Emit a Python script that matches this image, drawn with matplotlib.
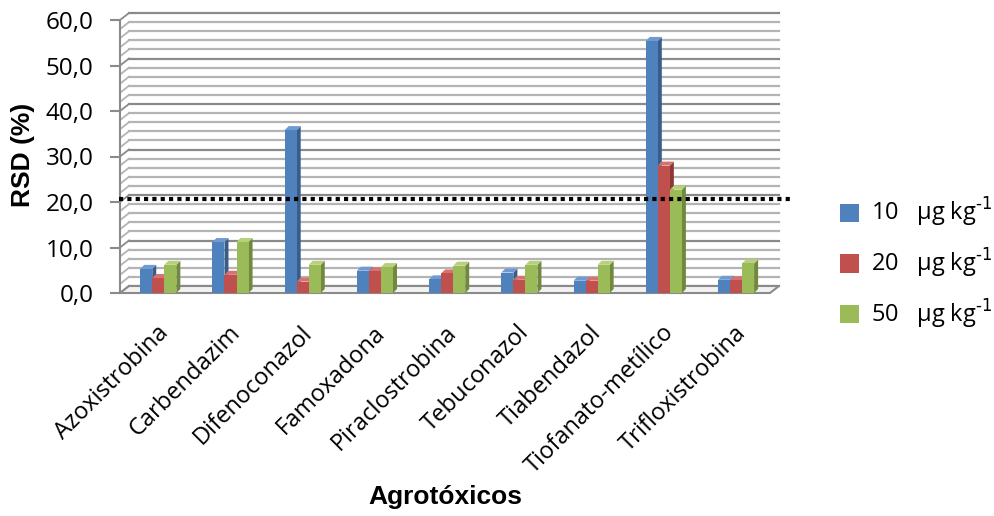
import numpy as np
import matplotlib
matplotlib.use('Agg')
import matplotlib.pyplot as plt
import matplotlib.transforms as mtransforms
from matplotlib.patches import Polygon


agrotoxicos = ['Azoxistrobina', 'Carbendazim', 'Difenoconazol', 'Famoxadona',
               'Piraclostrobina', 'Tebuconazol', 'Tiabendazol',
               'Tiofanato-metílico', 'Trifloxistrobina']
niveis = ['10', '20', '50']
rsd_10 = [5.3, 11.2, 35.8, 4.9, 3.0, 4.5, 2.7, 55.4, 2.9]
rsd_20 = [3.3, 4.0, 2.5, 4.8, 4.3, 2.9, 2.7, 28.0, 2.8]
rsd_50 = [6.2, 11.2, 6.2, 5.7, 6.0, 6.2, 6.2, 22.7, 6.5]
limite = 20.6

cores = ['#4F81BD', '#C0504D', '#9BBB59']
lados = ['#385D8A', '#8C3836', '#71893F']
topos = ['#6F9AD3', '#D9726F', '#B5D17A']

plt.rcParams['font.family'] = ['Open Sans', 'DejaVu Sans']

fig = plt.figure(figsize=(9.95, 5.16), dpi=100)
ax = fig.add_axes([120/995, 1-293/516, 650/995, 273/516])
ax.set_xlim(-0.5, 8.5)
ax.set_ylim(0, 60)

# depth offsets (pixels) for the back wall and the bar sides
dx_wall, dy_wall = 9, 7
dx_bar, dy_bar = 4, 4
wall = ax.transData + mtransforms.ScaledTranslation(dx_wall/100, dy_wall/100, fig.dpi_scale_trans)

x = np.arange(len(agrotoxicos))
for v in np.arange(0, 61, 2):
    major = v % 10 == 0
    c = '#8a8a8a' if major else '#b4b4b4'
    ax.plot([-0.5, 8.5], [v, v], transform=wall, color=c, lw=1.6, zorder=0, clip_on=False)
    # left wall diagonal
    p0 = ax.transData.transform((-0.5, v))
    p1 = wall.transform((-0.5, v))
    ax.plot([p0[0], p1[0]], [p0[1], p1[1]], transform=None, color=c, lw=1.3, zorder=0, clip_on=False)

# floor
f0 = ax.transData.transform((-0.5, 0)); f1 = ax.transData.transform((8.5, 0))
b0 = wall.transform((-0.5, 0)); b1 = wall.transform((8.5, 0))
ax.add_patch(Polygon([f0, f1, b1, b0], closed=True, transform=None,
                     facecolor='#f2f2f2', edgecolor='#8a8a8a', lw=1.5, zorder=0.5, clip_on=False))

largura = 1/6
series = [rsd_10, rsd_20, rsd_50]
handles = []
for k, vals in enumerate(series):
    pos = x + (k - 1) * largura + 0.03
    bars = ax.bar(pos, vals, width=largura, color=cores[k], zorder=2 + k*0.01,
                  label=niveis[k], linewidth=0)
    handles.append(bars)
    for b in bars:
        x0, x1 = b.get_x(), b.get_x() + b.get_width()
        h = b.get_height()
        p00 = ax.transData.transform((x1, 0)); p01 = ax.transData.transform((x1, h))
        p10 = ax.transData.transform((x0, h))
        side = [p00, p01, (p01[0]+dx_bar, p01[1]+dy_bar), (p00[0]+dx_bar, p00[1]+dy_bar)]
        top = [p10, p01, (p01[0]+dx_bar, p01[1]+dy_bar), (p10[0]+dx_bar, p10[1]+dy_bar)]
        ax.add_patch(Polygon(side, closed=True, transform=None, facecolor=lados[k],
                             lw=0, zorder=1.9 + k*0.01, clip_on=False))
        ax.add_patch(Polygon(top, closed=True, transform=None, facecolor=topos[k],
                             lw=0, zorder=1.9 + k*0.01, clip_on=False))

ax.plot([-0.52, 8.83], [limite, limite], color='black', lw=3,
        linestyle=(0, (1, 1)), zorder=5, clip_on=False)

for s in ['top', 'right', 'bottom']:
    ax.spines[s].set_visible(False)
ax.spines['left'].set_color('#8a8a8a')
ax.spines['left'].set_linewidth(1.5)
ax.set_yticks(np.arange(0, 61, 10))
ax.set_yticklabels([f'{v:.1f}'.replace('.', ',') for v in np.arange(0, 61, 10)], fontsize=17.5)
ax.tick_params(axis='y', length=7, width=1.5, color='#8a8a8a', pad=12)
ax.set_xticks(x)
ax.set_xticklabels(agrotoxicos, rotation=45, ha='right', rotation_mode='anchor', fontsize=17)
ax.tick_params(axis='x', length=0, pad=20)
ax.set_facecolor('none')

ax.set_ylabel('RSD (%)', fontsize=19, fontweight='bold', family='Liberation Sans',
              va='center', ha='center')
ax.yaxis.set_label_coords(-0.149, 0.505)
ax.set_xlabel('Agrotóxicos', fontsize=19, fontweight='bold', family='Liberation Sans',
              va='center', ha='center')
ax.xaxis.set_label_coords(0.5, -0.747)

unid = r'µg kg$^{\text{-1}}$'
ax.legend(handles, [f'{n}   {unid}' for n in niveis], loc='upper left',
          bbox_to_anchor=(840/995, 1-196/516),
          bbox_transform=fig.transFigure, frameon=False, fontsize=17, handlelength=0.8,
          handleheight=0.8, handletextpad=0.5, labelspacing=0.75, borderaxespad=0, borderpad=0)

fig.savefig('out.png', dpi=100)
